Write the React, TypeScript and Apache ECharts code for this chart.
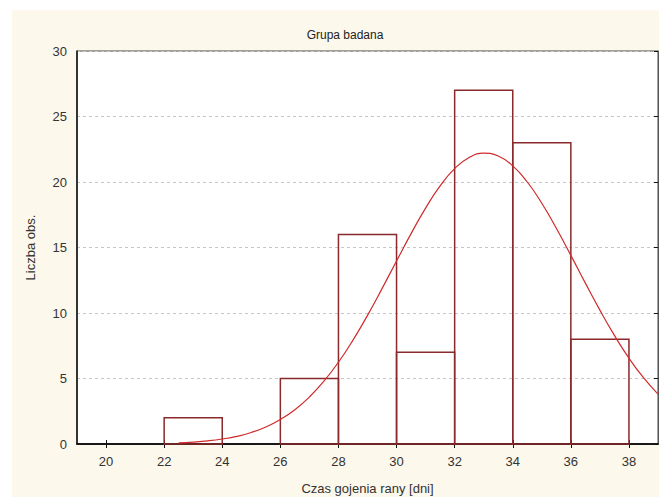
import React, { useEffect, useRef } from "react";
import * as echarts from "echarts";

const binStarts = [22, 24, 26, 28, 30, 32, 34, 36];
const binEnds = [24, 26, 28, 30, 32, 34, 36, 38];
const counts = [2, 0, 5, 16, 7, 27, 23, 8];

const curveX = [22.5, 23, 23.5, 24, 24.5, 25, 25.5, 26, 26.5, 27, 27.5, 28, 28.5, 29, 29.5, 30, 30.5, 31, 31.5, 32, 32.5, 33, 33.5, 34, 34.5, 35, 35.5, 36, 36.5, 37, 37.5, 38, 38.5, 39];
const curveY = [0.09, 0.15, 0.24, 0.38, 0.58, 0.88, 1.3, 1.87, 2.62, 3.59, 4.8, 6.24, 7.93, 9.82, 11.86, 13.97, 16.06, 18.01, 19.7, 21.02, 21.87, 22.2, 21.98, 21.23, 20.0, 18.38, 16.47, 14.4, 12.28, 10.22, 8.29, 6.55, 5.06, 3.81];

const xTickLabels = [20, 22, 24, 26, 28, 30, 32, 34, 36, 38];

const title = "Grupa badana";
const xName = "Czas gojenia rany [dni]";
const yName = "Liczba obs.";

const FONT = "Liberation Sans";

export default function App() {
  const ref = useRef<HTMLDivElement>(null);
  useEffect(() => {
    if (!ref.current) return;
    const chart = echarts.init(ref.current, undefined, { renderer: "svg" });
    const histData = binStarts.map((s, i) => [s, binEnds[i], counts[i]]);
    const curveData = curveX.map((x, i) => [x, curveY[i]]);
    const labelStyle = { color: "#333", fontFamily: FONT, fontSize: 13 };
    chart.setOption({
      animation: false,
      backgroundColor: "#ffffff",
      graphic: [
        {
          type: "rect",
          z: -10,
          silent: true,
          shape: { x: 12, y: 10, width: 647, height: 487 },
          style: { fill: "#fdf8ec" },
        },
      ],
      title: {
        text: title,
        left: 340,
        top: 24,
        textAlign: "center",
        textStyle: { color: "#222", fontFamily: FONT, fontSize: 12, fontWeight: "normal" },
      },
      grid: {
        left: 77,
        top: 51,
        right: 1,
        bottom: 53,
        outerBoundsMode: "none",
        containLabel: false,
        show: true,
        backgroundColor: "#ffffff",
        borderColor: "#444",
        borderWidth: 1,
      },
      xAxis: [
        {
          type: "value",
          min: 19,
          max: 39,
          position: "bottom",
          name: xName,
          nameLocation: "middle",
          nameGap: 38,
          nameTextStyle: labelStyle,
          axisLine: { show: true, lineStyle: { color: "#111", width: 1.5 } },
          axisTick: { show: true, inside: true, length: 4, customValues: xTickLabels, lineStyle: { color: "#111" } },
          axisLabel: { customValues: xTickLabels, margin: 11, ...labelStyle },
          splitLine: { show: false },
        },
        {
          type: "value",
          min: 19,
          max: 39,
          position: "top",
          axisLine: { show: true, lineStyle: { color: "#111", width: 1.5 } },
          axisTick: { show: true, inside: true, length: 4, customValues: xTickLabels, lineStyle: { color: "#111" } },
          axisLabel: { show: false },
          splitLine: { show: false },
        },
      ],
      yAxis: [
        {
          type: "value",
          min: 0,
          max: 30,
          interval: 5,
          position: "left",
          name: yName,
          nameLocation: "middle",
          nameGap: 40,
          nameTextStyle: labelStyle,
          axisLine: { show: true, lineStyle: { color: "#111", width: 1.5 } },
          axisTick: { show: false },
          axisLabel: { margin: 10, ...labelStyle },
          splitLine: { show: true, lineStyle: { color: "#c6c6c6", type: [3, 3], width: 1 } },
        },
        {
          type: "value",
          min: 0,
          max: 30,
          interval: 5,
          position: "right",
          axisLine: { show: true, lineStyle: { color: "#555", width: 1 } },
          axisTick: { show: true, inside: true, length: 4, lineStyle: { color: "#111" } },
          axisLabel: { show: false },
          splitLine: { show: false },
        },
      ],
      series: [
        {
          type: "custom",
          xAxisIndex: 0,
          yAxisIndex: 0,
          data: histData,
          encode: { x: [0, 1], y: 2 },
          renderItem: (params: any, api: any) => {
            const v = api.value(2);
            if (!v) return null;
            const p0 = api.coord([api.value(0), v]);
            const p1 = api.coord([api.value(1), 0]);
            return {
              type: "rect",
              shape: { x: p0[0], y: p0[1], width: p1[0] - p0[0], height: p1[1] - p0[1] },
              style: { fill: "none", stroke: "#8a2a2a", lineWidth: 1.5 },
            };
          },
          z: 2,
        },
        {
          type: "line",
          xAxisIndex: 0,
          yAxisIndex: 0,
          data: curveData,
          smooth: true,
          symbol: "none",
          lineStyle: { color: "#d02a2a", width: 1.2 },
          z: 3,
        },
      ],
    });
    return () => chart.dispose();
  }, []);
  return (
    <div
      ref={ref}
      style={{ position: "fixed", left: 0, top: 0, width: 659, height: 497 }}
    />
  );
}
